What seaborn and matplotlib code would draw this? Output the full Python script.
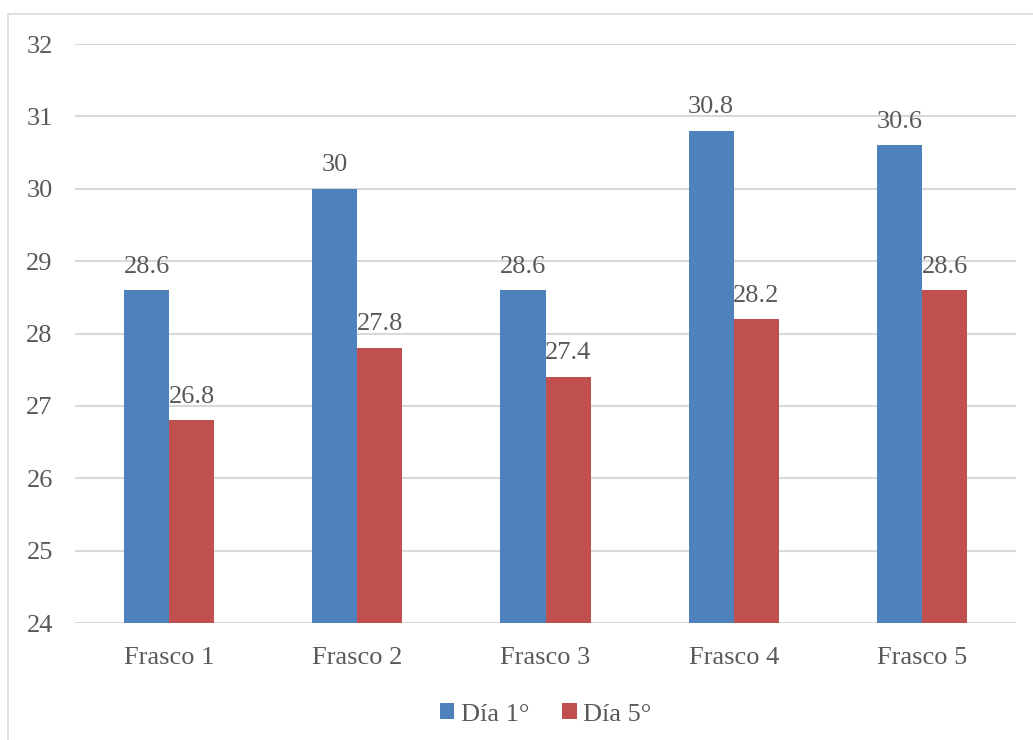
import matplotlib
matplotlib.use("Agg")
import matplotlib.pyplot as plt
from matplotlib.patches import Rectangle
import seaborn as sns
import pandas as pd

categories = ["Frasco 1", "Frasco 2", "Frasco 3", "Frasco 4", "Frasco 5"]
series_names = ["Día 1°", "Día 5°"]
dia1 = [28.6, 30.0, 28.6, 30.8, 30.6]
dia5 = [26.8, 27.8, 27.4, 28.2, 28.6]
y_ticks = [24, 25, 26, 27, 28, 29, 30, 31, 32]

df = pd.DataFrame({
    "Frasco": categories * 2,
    "Serie": [series_names[0]] * len(categories) + [series_names[1]] * len(categories),
    "Valor": dia1 + dia5,
})

sns.set_theme(style="white")
plt.rcParams["font.family"] = ["Liberation Serif", "DejaVu Serif"]
text_color = "#595959"
grid_color = "#D9D9D9"

fig = plt.figure(figsize=(10.33, 7.40), dpi=100)
ax = fig.add_axes([0.0726, 0.1581, 0.9110, 0.7824])

sns.barplot(data=df, x="Frasco", y="Valor", hue="Serie",
            palette=["#4F81BD", "#C0504D"], width=0.48, linewidth=0,
            saturation=1, ax=ax, zorder=3)

ax.set_ylim(24, 32)
ax.set_yticks(y_ticks)
ax.set_yticklabels([str(t) for t in y_ticks])
ax.set_xlim(-0.5, len(categories) - 0.5)
ax.set_xlabel("")
ax.set_ylabel("")
for s in ax.spines.values():
    s.set_visible(False)
ax.grid(axis="y", color=grid_color, linewidth=1.5, zorder=0)
ax.set_axisbelow(True)
ax.tick_params(axis="both", length=0, labelsize=19, colors=text_color)
ax.tick_params(axis="y", pad=16)
ax.tick_params(axis="x", pad=17)

for container in ax.containers:
    ax.bar_label(container, labels=[f"{v:g}" for v in container.datavalues],
                 padding=9, fontsize=19, color=text_color)

sns.move_legend(ax, "center", bbox_to_anchor=(0.5, -0.158), ncol=2,
                frameon=False, title=None, fontsize=19,
                handlelength=0.55, handleheight=0.55, handletextpad=0.25,
                columnspacing=1.25, labelcolor=text_color)

fig.patches.append(Rectangle((8 / 1033, -0.1), 1.2, (740 - 14) / 740 + 0.1,
                             transform=fig.transFigure, fill=False,
                             edgecolor=grid_color, linewidth=1.2))

fig.savefig("out.png", dpi=100)
